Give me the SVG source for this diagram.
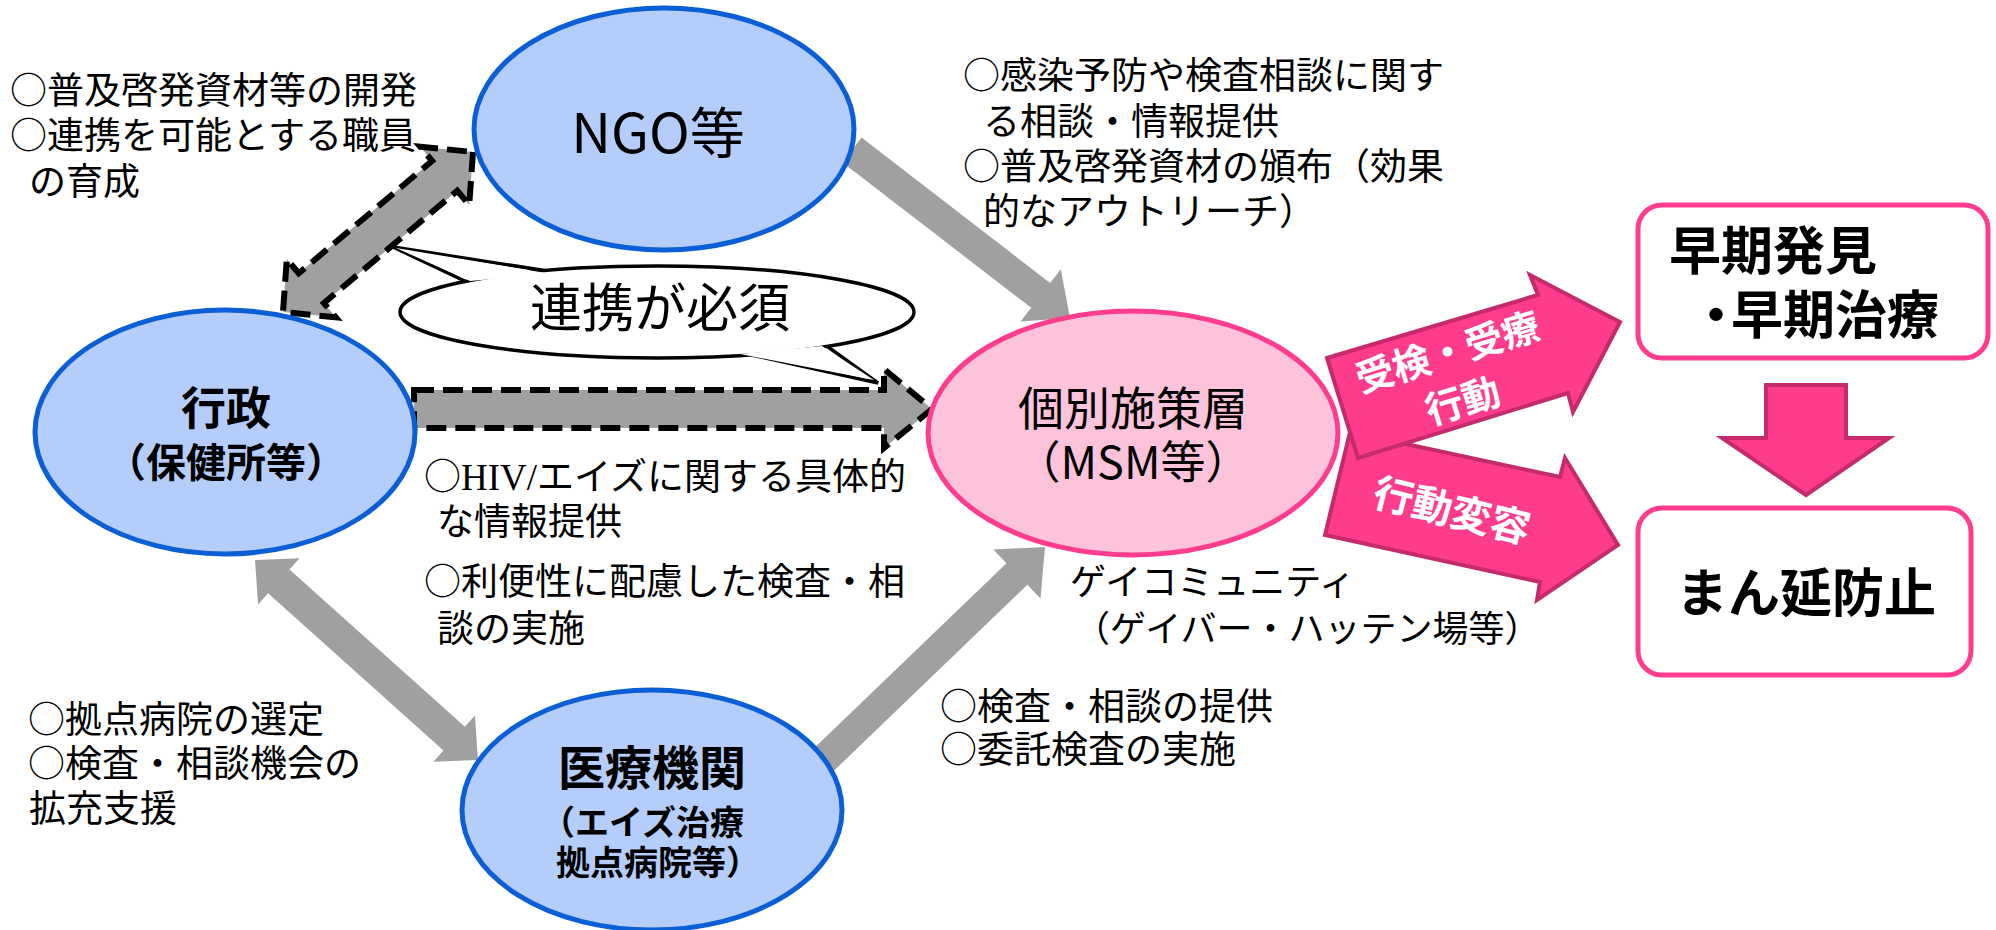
<svg xmlns="http://www.w3.org/2000/svg" width="1996" height="930" viewBox="0 0 1996 930">
<style>
.t{font-family:"Noto Sans CJK JP","Noto Sans",sans-serif;fill:#000}
.s{font-family:"Liberation Serif",serif}
.b{font-weight:bold}
.w{fill:#fff}
.gray{fill:#A0A0A0}
.dash{fill:#A0A0A0;stroke:#000;stroke-width:6;stroke-dasharray:20 9}
.blue{fill:#B4CDFA;stroke:#0A5FD6;stroke-width:5}
.pink{fill:#FDC3DA;stroke:#FF3C8E;stroke-width:5}
.parrow{fill:#FF3B8B;stroke:#C42A6C;stroke-width:4}
.box{fill:#fff;stroke:#FF3C8E;stroke-width:5}
.call{fill:#fff;stroke:#000;stroke-width:3.5}
</style>
<rect width="1996" height="930" fill="#fff"/>

<g id="callout">
<polygon class="call" points="393,247 554,272 469,283"/>
<polygon class="call" points="878,383 824,344 738,352"/>
<ellipse class="call" cx="657" cy="312" rx="257" ry="46"/>
<polygon fill="#fff" points="396,248 552,274 470,281"/>
<polygon fill="#fff" points="874,380 822,346 740,354"/>
<text class="t" x="660" y="327" font-size="52" text-anchor="middle">連携が必須</text>
</g>

<g id="connectors">
<polygon class="dash" points="473,152 469.2,204.9 457.3,190.7 323.9,303.1 335.8,317.3 283,312 286.8,259.1 298.7,273.3 432.1,160.9 420.2,146.7"/>
<polygon class="dash" points="414,390 884,390 884,369 932,409 884,448 884,428 414,428"/>
<polygon class="gray" points="861.5,137.6 1050.2,283 1060.8,269.3 1070,318 1020.6,321.5 1031.2,307.8 842.5,162.4"/>
<polygon class="gray" points="255,560 299.5,558.3 289.5,569.5 464.9,726.7 474.9,715.5 478,760 433.5,761.7 443.5,750.5 268.1,593.3 258.1,604.5"/>
<polygon class="gray" points="794,767.5 1006.5,563.2 993.3,549.5 1045,547 1040.5,598.5 1027.3,584.8 814.8,789.1"/>
<polygon class="parrow" points="1350,432 1560,477 1565,458 1618,545 1537,600 1540,582 1325,535"/>
<polygon class="parrow" points="1327,358 1538,295 1530,275 1620,322 1573,412 1568,393 1358,458"/>
<polygon class="parrow" points="1766,385 1846,385 1846,438 1889,438 1806,495 1722,438 1766,438"/>
<g transform="translate(1455,376) rotate(-17)">
<text class="t b w" x="0" y="-11" font-size="38" text-anchor="middle">受検・受療</text>
<text class="t b w" x="0" y="40" font-size="38" text-anchor="middle">行動</text>
</g>
<g transform="translate(1452,510) rotate(14)">
<text class="t b w" x="0" y="15" font-size="40" text-anchor="middle">行動変容</text>
</g>
</g>

<g id="ngo">
<ellipse class="blue" cx="664" cy="129" rx="190" ry="121"/>
<text class="t" x="658" y="153" font-size="55" text-anchor="middle">NGO等</text>
</g>

<g id="gyosei">
<ellipse class="blue" cx="225" cy="432" rx="190" ry="122"/>
<text class="t b" x="226" y="425" font-size="45" text-anchor="middle">行政</text>
<text class="t b" x="226" y="477" font-size="40" text-anchor="middle">（保健所等）</text>
</g>

<g id="msm">
<ellipse class="pink" cx="1133" cy="433" rx="205" ry="122"/>
<text class="t" x="1133" y="425" font-size="46" text-anchor="middle">個別施策層</text>
<text class="t" x="1133" y="479" font-size="45" text-anchor="middle">（MSM等）</text>
</g>

<g id="iryo">
<ellipse class="blue" cx="652" cy="810" rx="190" ry="120"/>
<text class="t b" x="652" y="785" font-size="47" text-anchor="middle">医療機関</text>
<text class="t b" x="541" y="835" font-size="34">（エイズ治療</text>
<text class="t b" x="556" y="875" font-size="34">拠点病院等）</text>
</g>

<g id="soki">
<rect class="box" x="1638" y="205" width="350" height="153" rx="24"/>
<text class="t b" x="1669" y="270" font-size="52">早期発見</text>
<text class="t b" y="334" font-size="52"><tspan x="1690">・</tspan><tspan x="1731">早期治療</tspan></text>
</g>

<g id="manen">
<rect class="box" x="1638" y="508" width="333" height="167" rx="24"/>
<text class="t b" x="1806" y="612" font-size="52" text-anchor="middle">まん延防止</text>
</g>

<g id="labels">
<text class="t" x="10" y="104" font-size="37">○普及啓発資材等の開発</text>
<text class="t" x="10" y="149" font-size="37">○連携を可能とする職員</text>
<text class="t" x="29" y="195" font-size="37">の育成</text>

<text class="t" x="963" y="89" font-size="37">○感染予防や検査相談に関す</text>
<text class="t" x="983" y="135" font-size="37">る相談・情報提供</text>
<text class="t" x="963" y="180" font-size="37">○普及啓発資材の頒布（効果</text>
<text class="t" x="983" y="225" font-size="37">的なアウトリーチ）</text>

<text class="t" x="424" y="490" font-size="37">○<tspan class="s">HIV/</tspan>エイズに関する具体的</text>
<text class="t" x="437" y="535" font-size="37">な情報提供</text>
<text class="t" x="424" y="595" font-size="37">○利便性に配慮した検査・相</text>
<text class="t" x="437" y="642" font-size="37">談の実施</text>

<text class="t" x="1070" y="595" font-size="36">ゲイコミュニティ</text>
<text class="t" x="1074" y="642" font-size="36">（ゲイバー・ハッテン場等）</text>

<text class="t" x="28" y="733" font-size="37">○拠点病院の選定</text>
<text class="t" x="28" y="777" font-size="37">○検査・相談機会の</text>
<text class="t" x="29" y="822" font-size="37">拡充支援</text>

<text class="t" x="940" y="720" font-size="37">○検査・相談の提供</text>
<text class="t" x="940" y="763" font-size="37">○委託検査の実施</text>
</g>
</svg>
